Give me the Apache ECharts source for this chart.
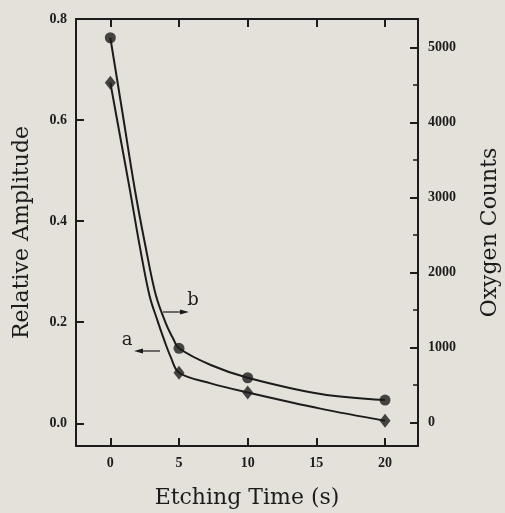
<!DOCTYPE html>
<html><head><meta charset="utf-8">
<script src="https://cdn.jsdelivr.net/npm/echarts@6/dist/echarts.min.js"></script>
<style>html,body{margin:0;padding:0;background:#e3e1da;}#c{width:505px;height:513px;}</style>
</head><body><div id="c"></div>
<script>
// Measured points (Etching Time s)
var etchTimes = [0, 5, 10, 20];
var amplitudeA = [0.674, 0.100, 0.061, 0.005];      // curve a, left axis (diamonds)
var oxygenB = [5130, 990, 597, 300];                // curve b, right axis (circles)
// Drawn fitted curves
var curveAx = [0, 0.71, 1.43, 2.13, 2.85, 3.42, 3.93, 4.40, 5, 7.31, 10, 15.3, 20];
var curveAy = [0.674, 0.568, 0.461, 0.352, 0.253, 0.204, 0.164, 0.131, 0.100, 0.079, 0.061, 0.029, 0.005];
var curveBx = [0, 0.91, 1.79, 2.54, 3.31, 4.04, 4.55, 5, 7.31, 10, 15.32, 20];
var curveBy = [5130, 4100, 3100, 2367, 1700, 1323, 1127, 990, 767, 597, 380, 300];
var xTicks = [0, 5, 10, 15, 20];
var leftTicks = [0, 0.2, 0.4, 0.6, 0.8];
var rightTicks = [0, 1000, 2000, 3000, 4000, 5000];
var rightMinor = [500, 1500, 2500, 3500, 4500];

function pairs(xs, ys){ return xs.map(function(x,i){ return [x, ys[i]]; }); }

var ink = '#1c1c1c';
var serif = 'DejaVu Serif';
var lblFont = {fontFamily:'Liberation Serif', fontWeight:'bold', fontSize:14, color:ink};
var chart = echarts.init(document.getElementById('c'));
chart.setOption({
  backgroundColor:'#e3e1da',
  animation:false,
  grid:{left:76, top:19, right:87, bottom:67, outerBoundsMode:'none', containLabel:false},
  xAxis:[
    {type:'value', position:'bottom', min:-2.5, max:22.4,
     name:'Etching Time (s)', nameLocation:'middle', nameGap:41,
     nameTextStyle:{fontFamily:serif, fontSize:22, color:ink},
     axisLine:{show:true, onZero:false, lineStyle:{color:ink, width:2}},
     axisTick:{show:true, inside:true, length:8, customValues:xTicks, lineStyle:{color:ink, width:2}},
     axisLabel:Object.assign({margin:10, customValues:xTicks}, lblFont),
     splitLine:{show:false}},
    {type:'value', position:'top', min:-2.5, max:22.4,
     axisLine:{show:true, onZero:false, lineStyle:{color:ink, width:2}},
     axisTick:{show:true, inside:true, length:8, customValues:xTicks, lineStyle:{color:ink, width:2}},
     axisLabel:{show:false}, splitLine:{show:false}}
  ],
  yAxis:[
    {type:'value', position:'left', min:-0.045, max:0.8,
     name:'Relative Amplitude', nameLocation:'middle', nameGap:43, nameRotate:90,
     nameTextStyle:{fontFamily:serif, fontSize:22, color:ink},
     axisLine:{show:true, onZero:false, lineStyle:{color:ink, width:2}},
     axisTick:{show:true, inside:true, length:8, customValues:leftTicks, lineStyle:{color:ink, width:2}},
     axisLabel:Object.assign({margin:9, customValues:leftTicks, formatter:function(v){return v.toFixed(1);}}, lblFont),
     splitLine:{show:false}},
    {type:'value', position:'right', min:-313, max:5380,
     name:'Oxygen Counts', nameLocation:'middle', nameGap:61, nameRotate:90,
     nameTextStyle:{fontFamily:serif, fontSize:22, color:ink},
     axisLine:{show:true, onZero:false, lineStyle:{color:ink, width:2}},
     axisTick:{show:true, inside:true, length:8, customValues:rightTicks, lineStyle:{color:ink, width:2}},
     axisLabel:Object.assign({margin:10, customValues:rightTicks, formatter:function(v){return String(v);}}, lblFont),
     splitLine:{show:false}},
    {type:'value', position:'right', min:-313, max:5380,
     axisLine:{show:false, onZero:false},
     axisTick:{show:true, inside:true, length:5, customValues:rightMinor, lineStyle:{color:ink, width:1.5}},
     axisLabel:{show:false}, splitLine:{show:false}}
  ],
  series:[
    {type:'line', xAxisIndex:0, yAxisIndex:0, data:pairs(curveAx, curveAy), smooth:0.35,
     showSymbol:false, lineStyle:{color:ink, width:2}},
    {type:'scatter', xAxisIndex:0, yAxisIndex:0, data:pairs(etchTimes, amplitudeA),
     symbol:'diamond', symbolSize:[11,14], itemStyle:{color:ink}},
    {type:'line', xAxisIndex:0, yAxisIndex:1, data:pairs(curveBx, curveBy), smooth:0.35,
     showSymbol:false, lineStyle:{color:ink, width:2}},
    {type:'scatter', xAxisIndex:0, yAxisIndex:1, data:pairs(etchTimes, oxygenB),
     symbol:'circle', symbolSize:11, itemStyle:{color:ink}}
  ],
  graphic:[
    {type:'text', x:127, y:340, style:{text:'a', font:'18px "DejaVu Serif"', fill:ink, align:'center', verticalAlign:'middle'}},
    {type:'line', shape:{x1:160, y1:351, x2:138, y2:351}, style:{stroke:ink, lineWidth:1.2}},
    {type:'polygon', shape:{points:[[134,351],[143,348.5],[143,353.5]]}, style:{fill:ink}},
    {type:'text', x:193, y:300, style:{text:'b', font:'18px "DejaVu Serif"', fill:ink, align:'center', verticalAlign:'middle'}},
    {type:'line', shape:{x1:163, y1:312, x2:185, y2:312}, style:{stroke:ink, lineWidth:1.2}},
    {type:'polygon', shape:{points:[[189,312],[180,309.5],[180,314.5]]}, style:{fill:ink}}
  ]
});
</script></body></html>
